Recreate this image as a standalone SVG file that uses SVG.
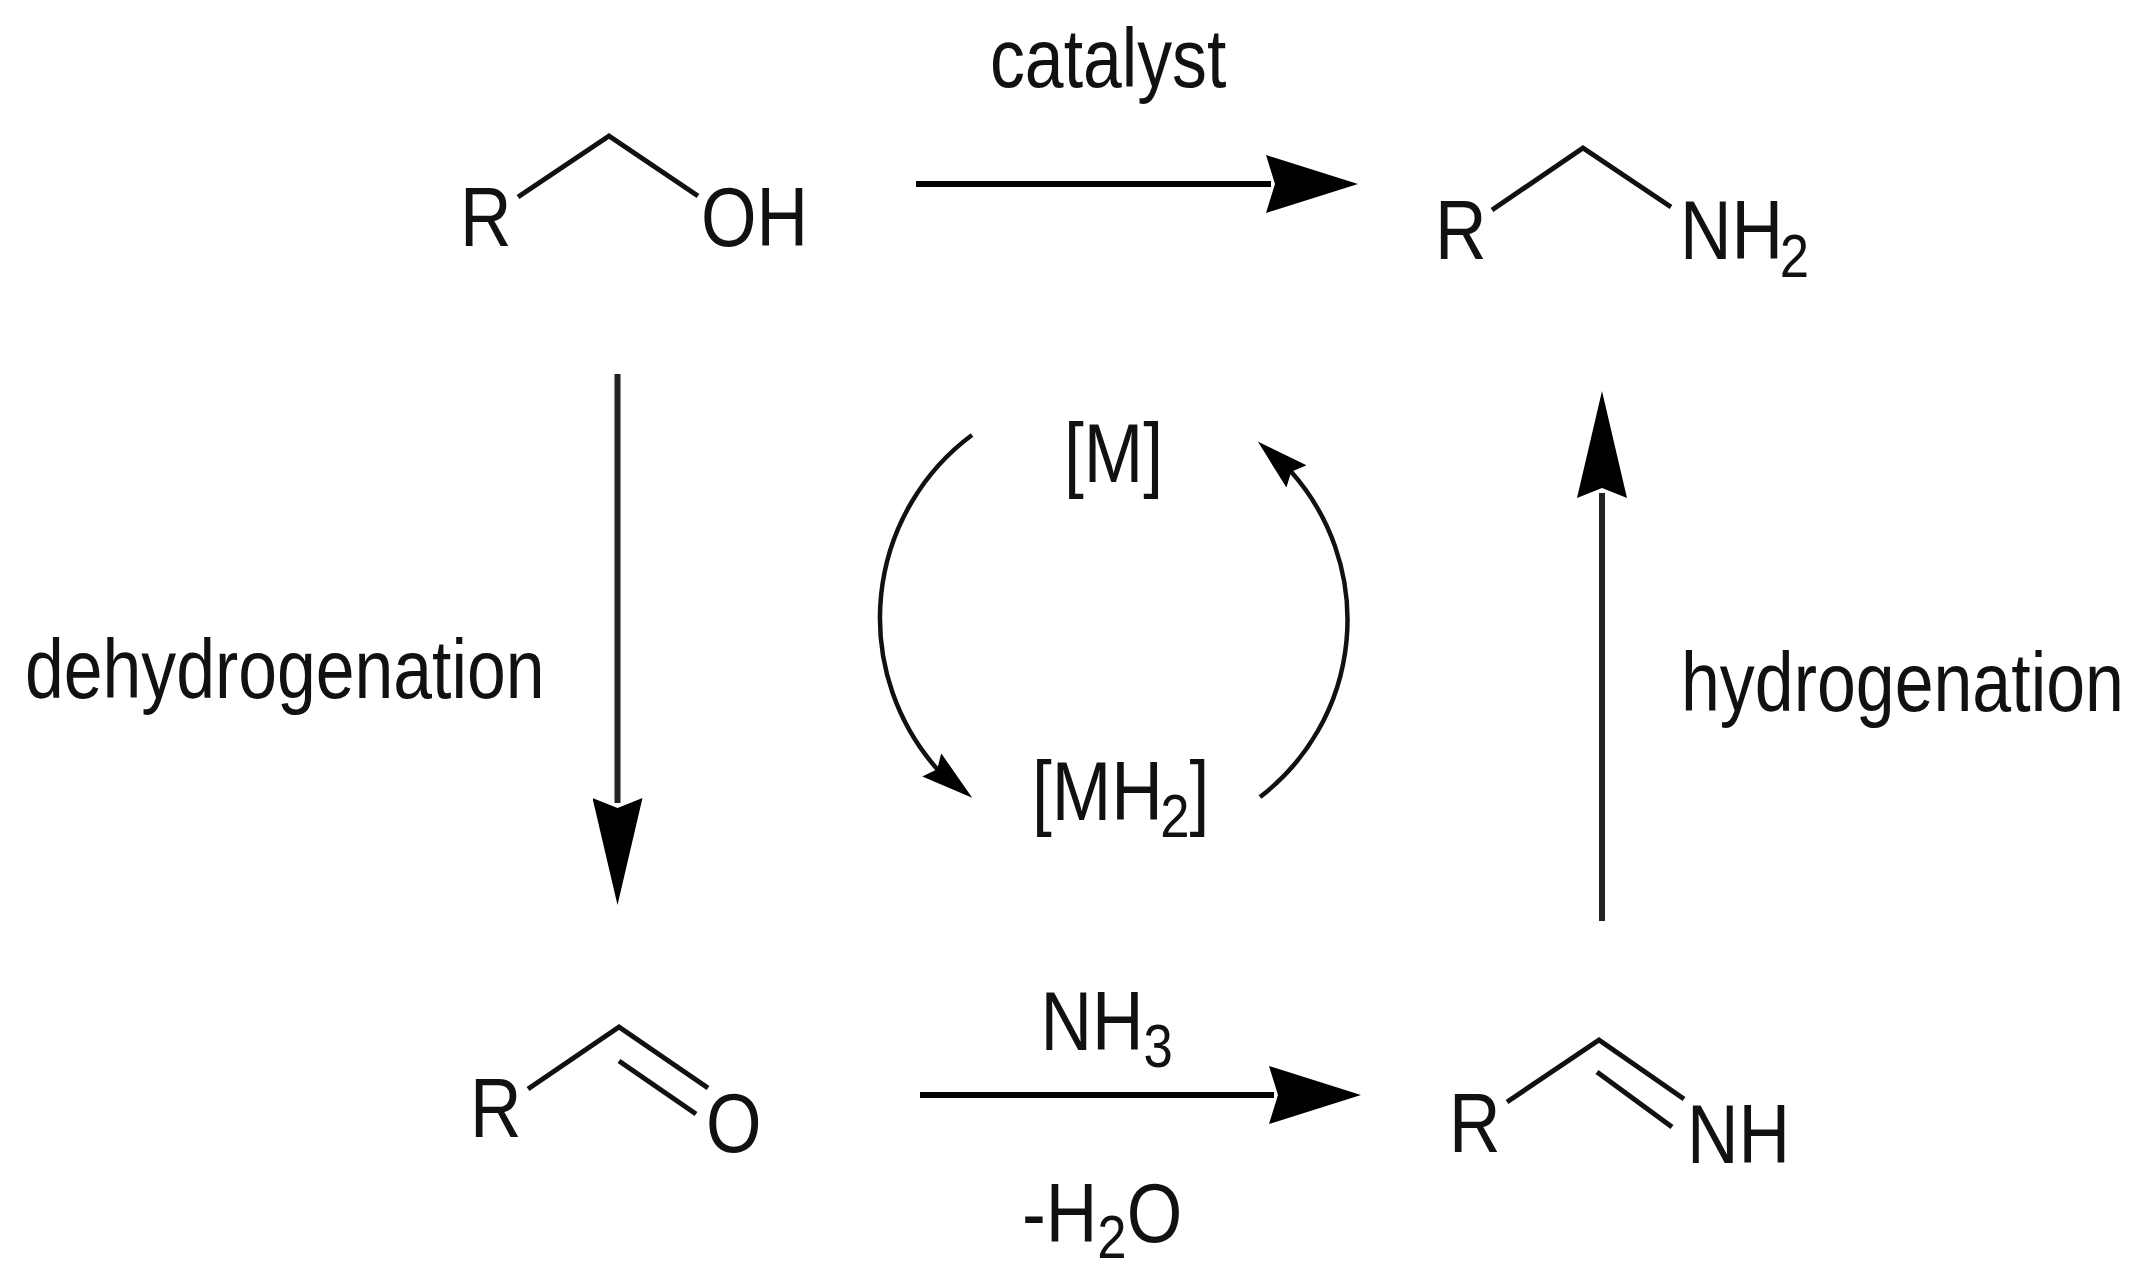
<svg xmlns="http://www.w3.org/2000/svg" width="2142" height="1284" viewBox="0 0 2142 1284">
<style>
text{font-family:"Liberation Sans",Arial,sans-serif;font-size:84px;fill:#111}
.sub{font-size:62px}
.bond{fill:none;stroke:#111;stroke-width:5;stroke-linecap:butt;stroke-linejoin:miter}
.arrow{fill:none;stroke:#000;stroke-width:6}
.arrow-v{fill:none;stroke:#222;stroke-width:6}
.curve{fill:none;stroke:#111;stroke-width:4.5}
</style>
<defs>
<marker id="headH" markerUnits="userSpaceOnUse" markerWidth="92" markerHeight="58" refX="5" refY="29" orient="auto"><path d="M0 0L92 29L0 58L9 29Z" fill="#000"/></marker>
<marker id="headV" markerUnits="userSpaceOnUse" markerWidth="107" markerHeight="50" refX="5" refY="25" orient="auto"><path d="M0 0L107 25L0 50L10 25Z" fill="#000"/></marker>
<marker id="headCL" markerUnits="userSpaceOnUse" markerWidth="52" markerHeight="30" refX="8" refY="15" orient="39"><path d="M0 0L52 15L0 30L7 15Z" fill="#000"/></marker>
<marker id="headCR" markerUnits="userSpaceOnUse" markerWidth="52" markerHeight="30" refX="8" refY="15" orient="222"><path d="M0 0L52 15L0 30L7 15Z" fill="#000"/></marker>
</defs>
<rect width="2142" height="1284" fill="#fff"/>
<g id="connectors">
<line class="arrow" x1="916" y1="184" x2="1271" y2="184" marker-end="url(#headH)"/>
<line class="arrow" x1="920" y1="1095" x2="1274" y2="1095" marker-end="url(#headH)"/>
<line class="arrow-v" x1="617.5" y1="374" x2="617.5" y2="803" marker-end="url(#headV)"/>
<line class="arrow-v" x1="1602" y1="921" x2="1602" y2="493" marker-end="url(#headV)"/>
<path class="curve" d="M972 435A228 228 0 0 0 938 770" marker-end="url(#headCL)"/>
<path class="curve" d="M1260 797A223 223 0 0 0 1290.500 471" marker-end="url(#headCR)"/>
</g>
<g id="alcohol">
<path class="bond" d="M518 197L609 136L698 196"/>
<text transform="translate(460 246) scale(.85 1)">R</text>
<text transform="translate(701 246) scale(.85 1)">OH</text>
</g>
<g id="amine">
<path class="bond" d="M1492 210L1583 148L1671 207"/>
<text transform="translate(1435 259) scale(.85 1)">R</text>
<text transform="translate(1680 259) scale(.85 1)">NH<tspan class="sub" dy="18" dx="-4">2</tspan></text>
</g>
<g id="aldehyde">
<path class="bond" d="M528 1089L619 1027L708 1088M619 1061L696 1114"/>
<text transform="translate(470 1137) scale(.85 1)">R</text>
<text transform="translate(706 1152) scale(.85 1)">O</text>
</g>
<g id="imine">
<path class="bond" d="M1507 1102L1599 1040L1684 1099M1597 1072L1672 1127"/>
<text transform="translate(1449 1152) scale(.85 1)">R</text>
<text transform="translate(1687 1163) scale(.85 1)">NH</text>
</g>
<g id="metal">
<text transform="translate(1064 482) scale(.85 1)">[M]</text>
</g>
<g id="metal-hydride">
<text transform="translate(1032 820) scale(.85 1)">[MH<tspan class="sub" dy="17" dx="-3">2</tspan><tspan dy="-17">]</tspan></text>
</g>
<g id="labels">
<text transform="translate(990 87) scale(.83 1)">catalyst</text>
<text transform="translate(25 698) scale(.83 1)">dehydrogenation</text>
<text transform="translate(1681 711) scale(.832 1)">hydrogenation</text>
<text transform="translate(1040.500 1050) scale(.85 1)">NH<tspan class="sub" dy="17">3</tspan></text>
<text transform="translate(1022 1242) scale(.85 1)">-H<tspan class="sub" dy="16">2</tspan><tspan dy="-16">O</tspan></text>
</g>
</svg>
